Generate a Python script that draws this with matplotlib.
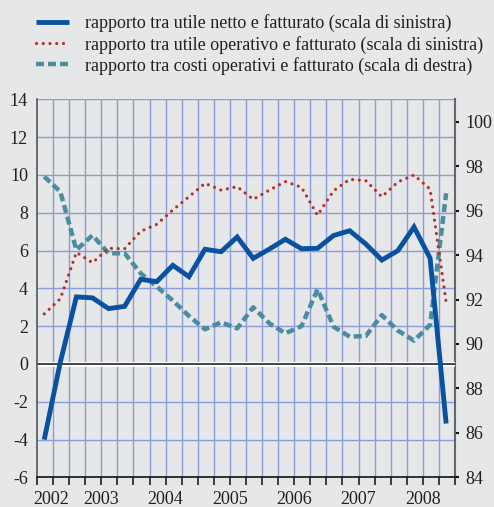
import numpy as np
import matplotlib
matplotlib.use("Agg")
import matplotlib.pyplot as plt

plt.rcParams['font.family'] = ['Liberation Serif', 'DejaVu Serif']
plt.rcParams['axes.unicode_minus'] = False

years = ['2002', '2003', '2004', '2005', '2006', '2007', '2008']
n_quarters = 26

netto = [-4.0, 0.1, 3.55, 3.5, 2.93, 3.05, 4.48, 4.36, 5.22, 4.62, 6.07, 5.94, 6.72,
         5.59, 6.08, 6.6, 6.1, 6.12, 6.8, 7.05, 6.35, 5.5, 6.0, 7.25, 5.6, -3.15]
operativo = [2.65, 3.45, 5.9, 5.36, 6.12, 6.1, 7.02, 7.39, 8.15, 8.85, 9.56, 9.2, 9.38,
             8.71, 9.2, 9.65, 9.35, 7.87, 9.17, 9.77, 9.7, 8.85, 9.63, 10.0, 9.25, 3.26]
costi = [97.53, 96.85, 94.23, 94.89, 94.08, 94.08, 93.18, 92.58, 91.95, 91.26, 90.66, 90.98, 90.7,
         91.65, 90.93, 90.48, 90.8, 92.46, 90.77, 90.33, 90.36, 91.3, 90.6, 90.15, 90.86, 96.78]

labels = ['rapporto tra utile netto e fatturato (scala di sinistra)',
          'rapporto tra utile operativo e fatturato (scala di sinistra)',
          'rapporto tra costi operativi e fatturato (scala di destra)']

bg = '#e6e7e9'
grid_c = '#8c9cd8'
c_netto = '#0a52a0'
c_oper = '#b3332c'
c_costi = '#4b8d9e'
txt_c = '#231f20'

fig = plt.figure(figsize=(4.94, 5.07), dpi=100, facecolor=bg)
ax = fig.add_axes([37/494, 1-477.4/507, (455-37)/494, (477.4-99.4)/507])
ax2 = ax.twinx()
ax.set_zorder(ax2.get_zorder() + 1)
ax.patch.set_visible(False)
ax2.set_facecolor(bg)

x = np.arange(n_quarters) + 0.45

l2, = ax.plot(x, operativo, color=c_oper, lw=2.3, linestyle=(0, (0.01, 2.1)),
              dash_capstyle='round', label=labels[1], zorder=3)
l3, = ax2.plot(x, costi, color=c_costi, lw=3.2, linestyle=(0, (1.8, 0.9)),
               dash_capstyle='butt', label=labels[2], zorder=3)
l1, = ax.plot(x, netto, color=c_netto, lw=3.5, solid_capstyle='butt',
              solid_joinstyle='miter', label=labels[0], zorder=4)

ax.set_xlim(0, n_quarters)
ax.set_ylim(-6, 14)
ax2.set_ylim(84, 101)

# grid
ax.set_yticks(np.arange(-6, 15, 2))
ax.set_xticks(np.arange(0, n_quarters + 1))
ax.set_xticklabels([])
for xv in range(1, n_quarters):
    ax2.axvline(xv, color=grid_c, lw=1.0, zorder=1)
for yv in np.arange(-4, 15, 2):
    ax2.axhline(yv * (17 / 20) + 84 + 6 * 17 / 20, color=grid_c, lw=1.0, zorder=1)
ax.axhline(0, color='white', lw=3.5, zorder=2)
ax.axhline(0, color='#111111', lw=1.1, zorder=2)

# year labels
ax.xaxis.remove_overlapping_locs = False
ypos = [0.87] + [4 * k for k in range(1, len(years))]
ax.set_xticks(ypos, minor=True)
ax.set_xticklabels(years, minor=True)
ax.tick_params(axis='x', which='minor', length=0, pad=10, labelsize=13, labelcolor=txt_c)
ax.tick_params(axis='x', which='major', length=6, width=1.2, color='#222222', direction='out')
ax.tick_params(axis='y', length=0, pad=6.5, labelsize=13, labelcolor=txt_c)

ax2.set_yticks(np.arange(84, 101, 2))
ax2.tick_params(axis='y', length=3, width=1.5, color='#111111', pad=4.8,
                labelsize=13, labelcolor=txt_c)

for a in (ax, ax2):
    a.spines['top'].set_visible(False)
ax.spines['left'].set_color('#555555')
ax.spines['left'].set_linewidth(1.2)
ax.spines['right'].set_visible(False)
ax2.spines['left'].set_visible(False)
ax2.spines['bottom'].set_visible(False)
ax2.spines['right'].set_color('#666666')
ax2.spines['right'].set_linewidth(1.5)
ax.spines['bottom'].set_color('#111111')
ax.spines['bottom'].set_linewidth(1.2)

fig.legend(handles=[l1, l2, l3], loc='upper left', bbox_to_anchor=(36/494, 1-14.5/507),
           frameon=False, fontsize=13, handlelength=1.85, handletextpad=0.85,
           labelspacing=0.18, borderpad=0, borderaxespad=0,
           labelcolor=txt_c)

fig.savefig('out.png', dpi=100, facecolor=bg)
